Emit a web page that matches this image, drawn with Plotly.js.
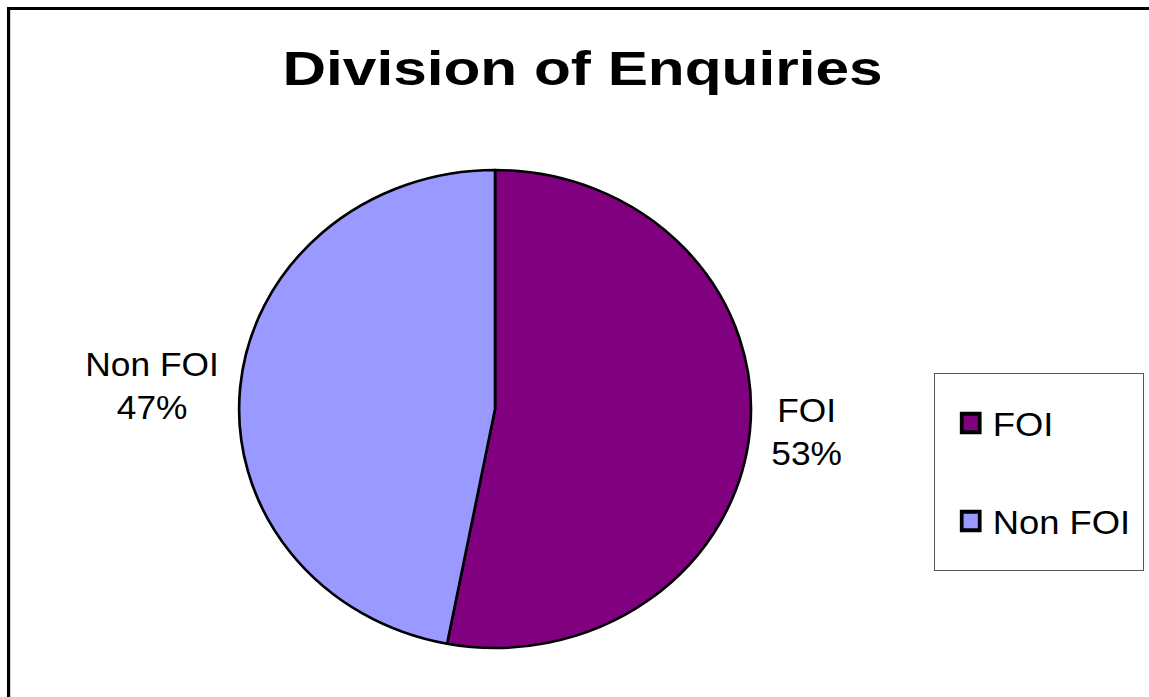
<!DOCTYPE html>
<html>
<head>
<meta charset="utf-8">
<script src="https://cdn.plot.ly/plotly-3.0.1.min.js"></script>
<style>
  html, body { margin: 0; padding: 0; background: #fff; }
  #wrap { width: 1149px; height: 697px; overflow: hidden; position: relative; }
  #gd { width: 1073px; height: 697px; transform: scaleX(1.07083); transform-origin: 0 0; }
</style>
</head>
<body>
<div id="wrap"><div id="gd"></div></div>
<script>
// ---- data ----
const categories = ['FOI', 'Non FOI'];
const shares = [53, 47];
const sliceColors = ['#800080', '#9999FF'];
const chartTitle = 'Division of Enquiries';

const W = 1073, H = 697;
const FONT = 'Liberation Sans, Arial, Helvetica, sans-serif';

const data = [{
  type: 'pie',
  labels: categories,
  values: shares,
  sort: false,
  direction: 'clockwise',
  rotation: 0,
  textposition: 'outside',
  textinfo: 'label+percent',
  textfont: { family: FONT, size: 33, color: '#000' },
  marker: { colors: sliceColors, line: { color: '#000', width: 2.5 } },
  domain: { x: [(462.3 - 239) / W, (462.3 + 239) / W], y: [49 / H, 527 / H] },
  hoverinfo: 'skip',
  automargin: false
}];

const layout = {
  width: W, height: H,
  margin: { l: 0, r: 0, t: 0, b: 0 },
  paper_bgcolor: '#fff',
  showlegend: true,
  title: {
    text: '<b>' + chartTitle + '</b>',
    font: { family: FONT, size: 49, color: '#000' },
    x: 544 / W, xref: 'paper', xanchor: 'center',
    y: 1 - 68 / H, yref: 'container', yanchor: 'middle'
  },
  legend: {
    x: 872 / W, xanchor: 'left',
    y: 1 - 373 / H, yanchor: 'top',
    font: { family: FONT, size: 34, color: '#000' },
    bgcolor: '#fff', bordercolor: '#555', borderwidth: 1
  },
  shapes: [{
    type: 'rect', xref: 'paper', yref: 'paper',
    x0: 8 / W, x1: 1.2, y0: -0.2, y1: 1 - 8.5 / H,
    line: { color: '#000', width: 3 }, fillcolor: 'rgba(0,0,0,0)', layer: 'below'
  }]
};

const gd = document.getElementById('gd');
Plotly.newPlot(gd, data, layout, { staticPlot: true, displayModeBar: false }).then(() => {
  // stretch title horizontally to match reference lettering width
  const t = gd.querySelector('.gtitle');
  if (t) {
    const cx = parseFloat(t.getAttribute('x'));
    t.setAttribute('transform', `translate(${cx},0) scale(1.15,1) translate(${-cx},0)`);
  }
  // legend: spacing, symbol size, box size
  const lg = gd.querySelector('.legend');
  if (lg) {
    const sb = lg.querySelector('.scrollbox');
    if (sb) sb.removeAttribute('clip-path');
    const bg = lg.querySelector('rect.bg');
    if (bg) { bg.setAttribute('width', 195); bg.setAttribute('height', 197); }
    lg.querySelectorAll('.traces').forEach((tr, i) => {
      tr.setAttribute('transform', `translate(0,${50 + i * 98})`);
      const p = tr.querySelector('.legendpoints path');
      if (p) p.setAttribute('transform', 'translate(34.5,0) scale(1.4,1.55)');
      const tx = tr.querySelector('text.legendtext');
      if (tx) tx.setAttribute('x', 55);
    });
  }
});
</script>
</body>
</html>
